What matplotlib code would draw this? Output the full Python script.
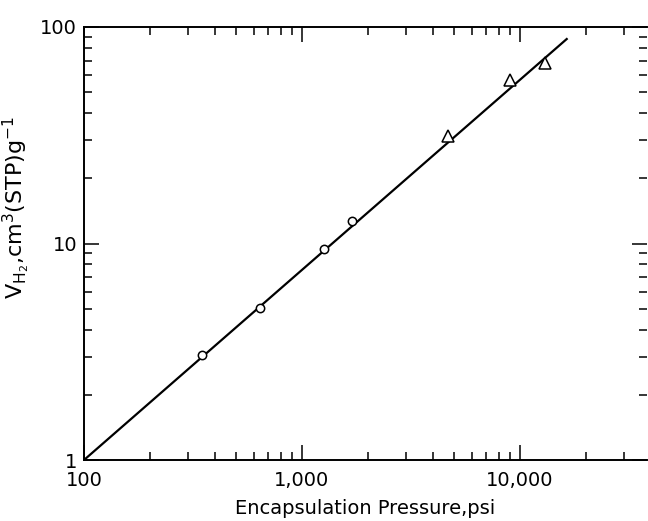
import matplotlib
matplotlib.use("Agg")
import matplotlib.pyplot as plt
from matplotlib.ticker import LogLocator, NullFormatter

# data
circle_p = [348, 640, 1265, 1696]
circle_v = [3.05, 5.04, 9.48, 12.7]
tri_p = [4673, 8995, 13030]
tri_v = [31.5, 56.7, 68.0]
fit_p = [100, 16400]
fit_v = [1.0, 88.0]

x_ticks = [100, 1000, 10000]
x_labels = ["100", "1,000", "10,000"]
y_ticks = [1, 10, 100]
y_labels = ["1", "10", "100"]

plt.rcParams['font.family'] = ['DejaVu Sans']

fig = plt.figure(figsize=(6.48, 5.21), dpi=100)
ax = fig.add_axes([84 / 648, 61 / 521, 563 / 648, 433 / 521])

ax.plot(fit_p, fit_v, color="black", lw=1.6)
ax.plot(circle_p, circle_v, "o", ms=6, mfc="white", mec="black", mew=1.1)
ax.plot(tri_p, tri_v, "^", ms=8, mfc="white", mec="black", mew=1.1)

ax.set_xscale("log")
ax.set_yscale("log")
ax.set_xlim(100, 38300)
ax.set_ylim(1, 100)

ax.set_xticks(x_ticks, x_labels)
ax.set_yticks(y_ticks, y_labels)
ax.xaxis.set_minor_locator(LogLocator(base=10, subs=range(2, 10)))
ax.yaxis.set_minor_locator(LogLocator(base=10, subs=range(2, 10)))
ax.xaxis.set_minor_formatter(NullFormatter())
ax.yaxis.set_minor_formatter(NullFormatter())

ax.tick_params(which="both", direction="in", top=True, right=True, width=1.1)
ax.tick_params(which="major", length=11, labelsize=14)
ax.tick_params(axis="x", which="major", pad=8)
ax.tick_params(axis="y", which="major", pad=5)
ax.tick_params(which="minor", length=6)
ax.spines["right"].set_visible(False)
for s in ["left", "bottom", "top"]:
    ax.spines[s].set_linewidth(1.4)

ax.set_xlabel("Encapsulation Pressure,psi", fontsize=14)
ax.xaxis.set_label_coords(0.5, -0.09)
ax.set_ylabel(r"V$_{\mathregular{H_2}}$,cm$^{\mathregular{3}}$(STP)g$^{\mathregular{-1}}$",
              fontsize=16)
ax.yaxis.set_label_coords(-0.092, 0.584)

fig.savefig("out.png", dpi=100)
